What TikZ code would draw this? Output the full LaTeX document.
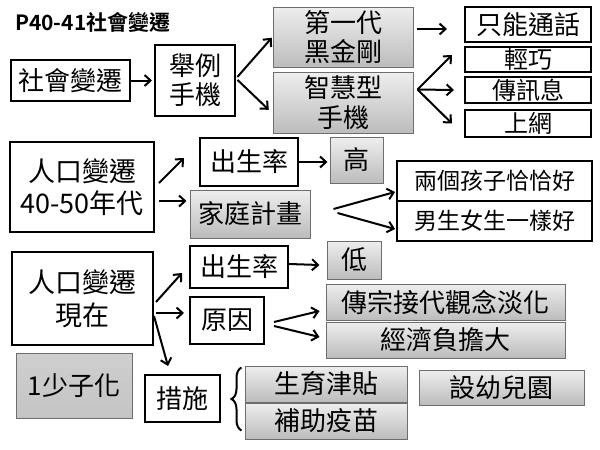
\documentclass[tikz,border=0pt]{standalone}
\usepackage{fontspec}
\setmainfont{Noto Sans CJK TC}
\newfontfamily\cjkbold{Noto Sans CJK TC Bold}
\usetikzlibrary{arrows.meta,calc,decorations.pathreplacing,shadows}
\definecolor{gtop}{HTML}{EEEEEE}
\definecolor{gbot}{HTML}{BCBCBC}
\definecolor{gline}{HTML}{6E6E6E}
\definecolor{dtop}{HTML}{CFCFCF}
\definecolor{dbot}{HTML}{C4C4C4}
\tikzset{
  wbox/.style={draw=black, line width=2pt, fill=white, inner sep=0pt, align=center},
  gbox/.style={draw=gline, line width=1pt, top color=gtop, bottom color=gbot, inner sep=0pt, align=center,
     drop shadow={opacity=0.25, shadow xshift=1pt, shadow yshift=-1pt}},
  arr/.style={line width=2pt, -{Straight Barb[length=6pt,width=11pt,line width=2pt]}},
  fsA/.style={font=\fontsize{26}{32}\selectfont},
  fsB/.style={font=\fontsize{24}{29}\selectfont},
  fsC/.style={font=\fontsize{23}{28}\selectfont},
}
\begin{document}
\begin{tikzpicture}[x=1pt,y=-1pt]
\useasboundingbox[fill=white] (0,0) rectangle (600,450);
% title
\node[anchor=west, inner sep=0pt, font=\cjkbold\fontsize{21}{24}\selectfont] (title) at (15,22) {P40-41社會變遷};
% row 1
\node[wbox, minimum width=119, minimum height=41, font=\fontsize{26}{32}\selectfont] (s1) at (70.5,80.5) {社會變遷};
\node[wbox, minimum width=80, minimum height=71, font=\fontsize{26}{29}\selectfont] (ex) at (195,80.5) {舉例\\手機};
\node[gbox, minimum width=140, minimum height=60, font=\fontsize{26}{29}\selectfont] (g1) at (343,37) {第一代\\黑金剛};
\node[gbox, minimum width=140, minimum height=61, font=\fontsize{26}{30}\selectfont] (g2) at (343,102.5) {智慧型\\手機};
\node[wbox, fsA, minimum width=126, minimum height=35] (r1) at (528,24.5) {只能通話};
\node[wbox, fsB, minimum width=126, minimum height=25] (r2) at (528,59.5) {輕巧};
\node[wbox, fsB, minimum width=126, minimum height=26] (r3) at (528,90) {傳訊息};
\node[wbox, fsB, minimum width=126, minimum height=27] (r4) at (528,123.5) {上網};
\draw[arr, shorten >=2pt] (s1) -- (ex);
\draw[arr, shorten <=2pt, shorten >=1pt] ([yshift=2pt]ex.east) -- (g1.west);
\draw[arr, shorten <=2pt, shorten >=1pt] ([yshift=2pt]ex.east) -- ([shift={(-3pt,-8pt)}]g2.west);
\draw[arr] ([shift={(3pt,8pt)}]g1.east) -- ([shift={(-17pt,-4.5pt)}]r1.west);
\coordinate (fk) at ([shift={(4pt,13pt)}]g2.east);
\draw[arr] (fk) -- ([shift={(-12pt,4.5pt)}]r2.west);
\draw[arr] (fk) -- ([xshift=-10pt]r3.west);
\draw[arr] (fk) -- ([xshift=-12pt]r4.west);
% row 2
\node[wbox, minimum width=144, minimum height=90, font=\fontsize{27}{32}\selectfont] (p1) at (82,187) {人口變遷\\40-50年代};
\node[wbox, fsA, minimum width=98, minimum height=48] (b1) at (249,162) {出生率};
\node[gbox, fsA, minimum width=120, minimum height=48] (fp) at (250,214) {家庭計畫};
\node[gbox, fsA, minimum width=53, minimum height=46] (hi) at (356.5,160) {高};
\node[wbox, fsC, minimum width=195, minimum height=40] (t1) at (494.5,181) {兩個孩子恰恰好};
\node[wbox, fsC, minimum width=195, minimum height=40] (t2) at (494.5,221) {男生女生一樣好};
\draw[arr] ([shift={(4pt,4pt)}]p1.east) -- ([shift={(-15pt,4pt)}]b1.west);
\draw[arr] ([shift={(4pt,-14pt)}]p1.east) -- ([shift={(-3pt,13pt)}]fp.west);
\draw[arr, shorten >=2pt] (b1.east) -- (b1.east -| hi.west);
\draw[arr] ([shift={(23pt,5pt)}]fp.east) -- ([shift={(-1pt,-11pt)}]t1.west);
\draw[arr] ([shift={(27pt,1pt)}]fp.east) -- ([shift={(-1pt,-8pt)}]t2.west);
% row 3
\node[wbox, minimum width=141, minimum height=93, font=\fontsize{27}{33}\selectfont] (p2) at (82.5,298.5) {人口變遷\\現在};
\node[wbox, fsA, minimum width=98, minimum height=42] (b2) at (239,267) {出生率};
\node[wbox, fsA, minimum width=74, minimum height=47] (rs) at (227,320.5) {原因};
\node[gbox, fsA, minimum width=54, minimum height=38] (lo) at (354,260) {低};
\node[gbox, fsA, minimum width=239, minimum height=36] (c1) at (445.5,302) {傳宗接代觀念淡化};
\node[gbox, fsA, minimum width=239, minimum height=36] (c2) at (445.5,340) {經濟負擔大};
\node[gbox, fsA, minimum width=116, minimum height=65, top color=dtop, bottom color=dbot] (sz) at (74,385.5) {1少子化};
\node[wbox, fsA, minimum width=75, minimum height=47] (ms) at (182.5,398.5) {措施};
\node[gbox, fsA, minimum width=162, minimum height=36] (m1) at (326,384) {生育津貼};
\node[gbox, fsA, minimum width=162, minimum height=36] (m2) at (326,421) {補助疫苗};
\node[gbox, fsA, minimum width=165, minimum height=35] (kg) at (501.5,387.5) {設幼兒園};
\draw[arr] ([shift={(2pt,-3.5pt)}]p2.east) -- ([shift={(-7pt,-6pt)}]b2.west);
\draw[arr] ([shift={(2pt,-14.5pt)}]p2.east) -- ([shift={(-5pt,7.5pt)}]rs.west);
\draw[arr] ([yshift=-17.5pt]p2.east) -- ([shift={(-14.5pt,8pt)}]ms.north);
\draw[arr] ([yshift=3pt]b2.east) -- ([shift={(-7pt,-5pt)}]lo.west);
\draw[arr] ([shift={(9pt,-1.5pt)}]rs.east) -- ([shift={(-6pt,-9pt)}]c1.west);
\draw[arr] ([shift={(9pt,-5.5pt)}]rs.east) -- ([shift={(-6pt,3pt)}]c2.west);
\draw[line width=2pt, decorate, decoration={brace, amplitude=10pt}] ([shift={(-3pt,9pt)}]m2.south west) -- ([shift={(-3pt,-2pt)}]m1.north west);
\end{tikzpicture}
\end{document}
